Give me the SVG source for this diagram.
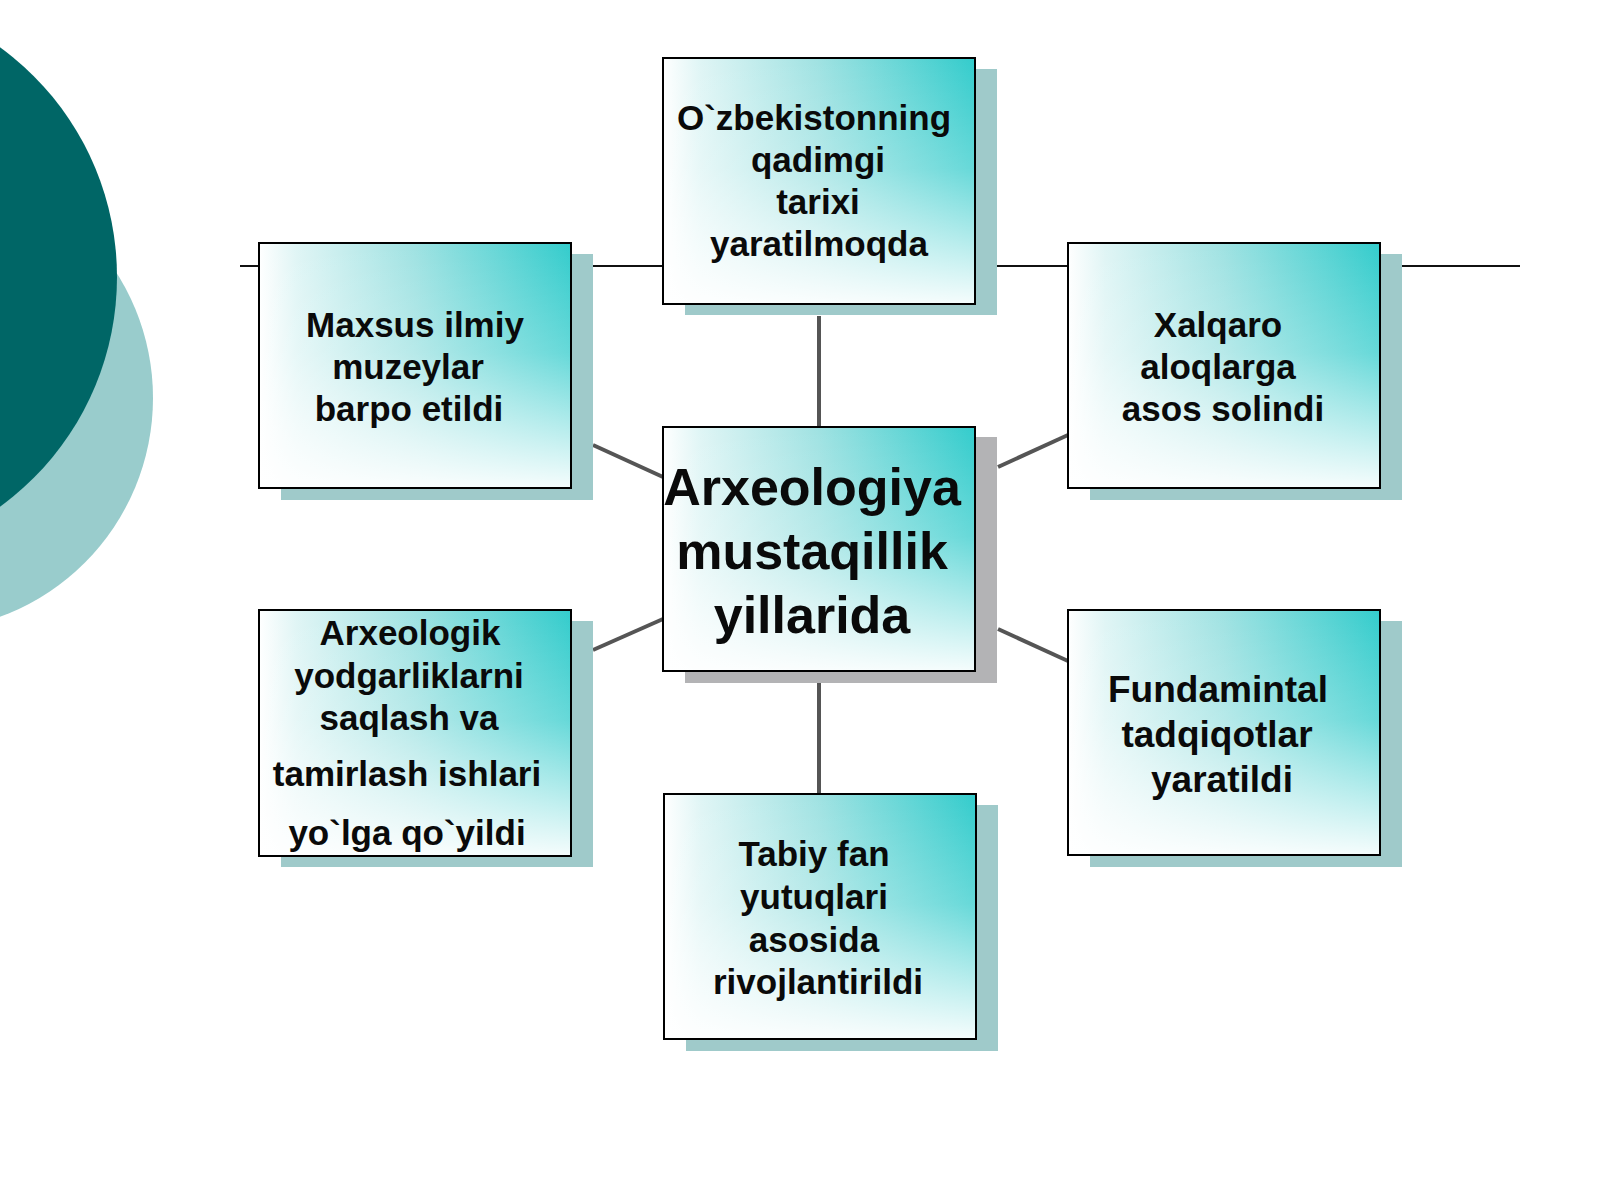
<svg xmlns="http://www.w3.org/2000/svg" width="1600" height="1200" viewBox="0 0 1600 1200">
<defs>
<linearGradient id="hG" x1="0" y1="0" x2="1" y2="0">
<stop offset="0" stop-color="#ffffff"/>
<stop offset="0.12" stop-color="#dff5f5"/>
<stop offset="0.5" stop-color="#9fe2e2"/>
<stop offset="1" stop-color="#33cccc"/>
</linearGradient>
<linearGradient id="vG" x1="0" y1="0" x2="0" y2="1">
<stop offset="0" stop-color="#ffffff" stop-opacity="0"/>
<stop offset="0.45" stop-color="#ffffff" stop-opacity="0.25"/>
<stop offset="1" stop-color="#ffffff" stop-opacity="0.95"/>
</linearGradient>
<style>
.box{fill:url(#hG)}
.ov{fill:url(#vG);stroke:#000;stroke-width:2}
.sh{fill:#9fcaca}
.shg{fill:#b3b3b5}
.t{font-family:"Liberation Sans",Arial,sans-serif;font-weight:bold;font-size:35px;fill:#0a0a0a;text-anchor:middle}
.big{font-size:52px}
.mid{font-size:37px}
.conn{stroke:#555;stroke-width:4;fill:none}
.hl{stroke:#111;stroke-width:2;fill:none}
</style>
</defs>
<rect width="1600" height="1200" fill="#ffffff"/>
<g id="decor">
<circle cx="-80" cy="398" r="233" fill="#99cccc"/>
<circle cx="-167" cy="277" r="284" fill="#006666"/>
</g>
<g id="connectors">
<line class="hl" x1="240" y1="266" x2="1520" y2="266"/>
<line class="conn" x1="819" y1="316" x2="819" y2="427"/>
<line class="conn" x1="819" y1="683" x2="819" y2="794"/>
<line class="conn" x1="593" y1="445" x2="663" y2="477"/>
<line class="conn" x1="593" y1="650" x2="663" y2="619"/>
<line class="conn" x1="998" y1="467" x2="1068" y2="435"/>
<line class="conn" x1="998" y1="629" x2="1068" y2="661"/>
</g>
<g id="n-top">
<rect class="sh" x="685" y="69" width="312" height="246"/>
<rect class="box" x="663" y="58" width="312" height="246"/>
<rect class="ov" x="663" y="58" width="312" height="246"/>
<text class="t"><tspan x="814" y="130">O`zbekistonning</tspan><tspan x="818" y="172">qadimgi</tspan><tspan x="818" y="214">tarixi</tspan><tspan x="819" y="256">yaratilmoqda</tspan></text>
</g>
<g id="n-left-top">
<rect class="sh" x="281" y="254" width="312" height="246"/>
<rect class="box" x="259" y="243" width="312" height="245"/>
<rect class="ov" x="259" y="243" width="312" height="245"/>
<text class="t"><tspan x="415" y="337">Maxsus ilmiy</tspan><tspan x="408" y="379">muzeylar</tspan><tspan x="409" y="421">barpo etildi</tspan></text>
</g>
<g id="n-right-top">
<rect class="sh" x="1090" y="254" width="312" height="246"/>
<rect class="box" x="1068" y="243" width="312" height="245"/>
<rect class="ov" x="1068" y="243" width="312" height="245"/>
<text class="t"><tspan x="1218" y="337">Xalqaro</tspan><tspan x="1218" y="379">aloqlarga</tspan><tspan x="1223" y="421">asos solindi</tspan></text>
</g>
<g id="n-center">
<rect class="shg" x="685" y="437" width="312" height="246"/>
<rect class="box" x="663" y="427" width="312" height="244"/>
<rect class="ov" x="663" y="427" width="312" height="244"/>
<text class="t big"><tspan x="812" y="505">Arxeologiya</tspan><tspan x="812" y="569">mustaqillik</tspan><tspan x="812" y="633">yillarida</tspan></text>
</g>
<g id="n-left-bottom">
<rect class="sh" x="281" y="621" width="312" height="246"/>
<rect class="box" x="259" y="610" width="312" height="246"/>
<rect class="ov" x="259" y="610" width="312" height="246"/>
<text class="t"><tspan x="410" y="645">Arxeologik</tspan><tspan x="409" y="688">yodgarliklarni</tspan><tspan x="409" y="730">saqlash va</tspan><tspan x="407" y="786">tamirlash ishlari</tspan><tspan x="407" y="845">yo`lga qo`yildi</tspan></text>
</g>
<g id="n-right-bottom">
<rect class="sh" x="1090" y="621" width="312" height="246"/>
<rect class="box" x="1068" y="610" width="312" height="245"/>
<rect class="ov" x="1068" y="610" width="312" height="245"/>
<text class="t mid"><tspan x="1218" y="702">Fundamintal</tspan><tspan x="1217" y="747">tadqiqotlar</tspan><tspan x="1222" y="792">yaratildi</tspan></text>
</g>
<g id="n-bottom">
<rect class="sh" x="686" y="805" width="312" height="246"/>
<rect class="box" x="664" y="794" width="312" height="245"/>
<rect class="ov" x="664" y="794" width="312" height="245"/>
<text class="t"><tspan x="814" y="866">Tabiy fan</tspan><tspan x="814" y="909">yutuqlari</tspan><tspan x="814" y="952">asosida</tspan><tspan x="818" y="994">rivojlantirildi</tspan></text>
</g>
</svg>
